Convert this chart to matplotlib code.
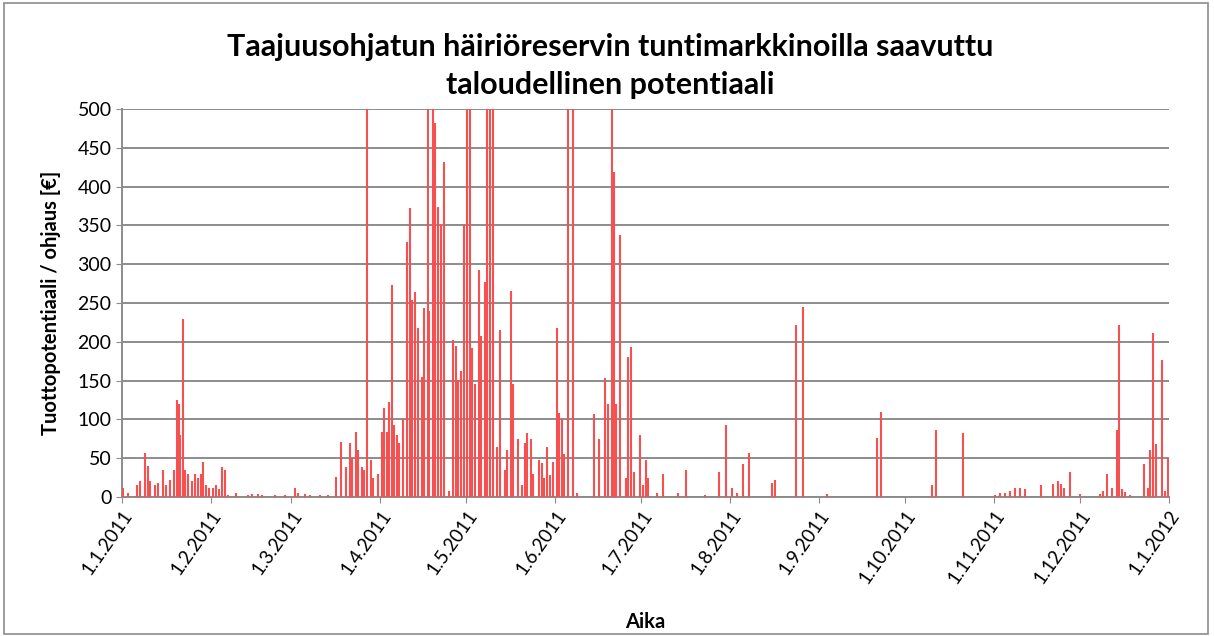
import numpy as np
import pandas as pd
import matplotlib
matplotlib.use("Agg")
import matplotlib.pyplot as plt
from matplotlib.patches import Rectangle

plt.rcParams['font.family'] = ['Lato', 'DejaVu Sans']

# spike positions as days from 1.1.2011, and their heights in euros
spike_days = [0.35, 2.1, 5.2, 6.3, 8.0, 9.1, 9.8, 11.5, 12.6, 14.3, 15.3, 16.7,
              18.1, 19.2, 19.9, 20.2, 21.3, 22.0, 23.0, 24.4, 25.5, 26.5, 27.5,
              28.2, 29.3, 30.3, 31.7, 32.8, 33.8, 34.9, 35.9, 37.0, 39.7, 43.9,
              45.3, 47.4, 48.8, 53.3, 56.8, 60.3, 61.4, 63.8, 65.6, 69.0, 71.8,
              74.6, 76.4, 78.1, 79.5, 80.2, 81.6, 82.3, 83.7, 84.4, 85.4, 86.8,
              87.5, 89.3, 90.7, 91.4, 92.4, 93.1, 94.1, 94.8, 95.9, 96.6, 98.0,
              99.4, 100.4, 101.1, 102.2, 103.2, 104.6, 105.3, 106.7, 107.0,
              108.4, 109.1, 110.2, 111.2, 112.3, 114.0, 115.4, 116.5, 117.2,
              118.2, 119.2, 120.3, 121.3, 122.0, 123.1, 124.5, 125.2, 126.6,
              127.3, 128.3, 129.4, 130.8, 131.8, 133.5, 134.2, 135.6, 136.3,
              138.1, 139.5, 140.5, 141.2, 142.6, 143.3, 145.4, 146.4, 147.1,
              148.2, 149.2, 150.3, 151.7, 152.4, 153.4, 154.1, 155.5, 157.3,
              158.6, 164.6, 166.3, 168.4, 169.5, 170.9, 171.5, 172.2, 173.6,
              175.7, 176.4, 177.5, 178.5, 180.6, 181.7, 182.7, 183.4, 186.5,
              188.6, 193.9, 196.7, 203.3, 208.2, 210.6, 212.6, 214.4, 216.5,
              218.6, 226.6, 227.7, 235.0, 237.4, 245.8, 263.2, 264.6, 282.4,
              283.8, 293.2, 304.4, 306.1, 307.9, 309.6, 311.4, 313.1, 314.9,
              320.4, 324.6, 326.4, 327.4, 328.5, 330.5, 334.0, 341.0, 342.1,
              343.4, 345.2, 346.9, 347.6, 348.7, 349.7, 351.5, 356.3, 357.7,
              358.4, 359.5, 360.5, 362.6, 363.7, 364.7]
spike_values = [12, 5, 15, 20, 57, 40, 20, 15, 18, 35, 15, 22,
                35, 125, 120, 80, 230, 35, 30, 20, 30, 25, 30,
                45, 15, 12, 12, 15, 10, 38, 35, 3, 5, 3,
                4, 4, 3, 3, 3, 11, 5, 4, 3, 3, 3,
                26, 71, 39, 69, 50, 84, 60, 39, 35, 820, 48,
                25, 30, 84, 115, 84, 122, 273, 93, 80, 70, 100,
                329, 372, 254, 264, 218, 155, 243, 700, 240,
                650, 482, 374, 350, 432, 8, 202, 195, 151,
                162, 350, 900, 600, 192, 145, 292, 207, 277,
                750, 800, 560, 65, 215, 35, 60, 265, 145,
                75, 15, 70, 83, 75, 30, 48, 44, 25,
                65, 28, 45, 218, 108, 100, 55, 900, 700,
                5, 107, 75, 153, 120, 600, 419, 120, 338,
                25, 180, 193, 32, 80, 15, 48, 25, 5,
                30, 5, 35, 3, 32, 93, 12, 5, 43,
                57, 18, 22, 222, 245, 4, 76, 110, 15,
                86, 82, 3, 5, 5, 8, 12, 12, 10,
                15, 17, 20, 17, 12, 32, 4, 4, 8,
                30, 12, 86, 222, 10, 6, 3, 42, 12,
                60, 211, 68, 176, 8, 50]

y_ticks = list(range(0, 501, 50))
month_starts = pd.date_range("2011-01-01", "2012-01-01", freq="MS")
month_labels = [f"1.{d.month}.{d.year}" for d in month_starts]

start = pd.Timestamp("2011-01-01")
spike_dates = [start + pd.Timedelta(days=d) for d in spike_days]

fig = plt.figure(figsize=(12.14, 6.36), dpi=100)
ax = fig.add_axes([0.1005, 0.2186, 0.8625, 0.61])

ax.vlines(spike_dates, 0, spike_values, colors="#f65050", linewidth=1.5, zorder=3)

ax.set_ylim(0, 500)
ax.set_xlim(month_starts[0], month_starts[-1])
ax.set_yticks(y_ticks)
ax.set_yticklabels([str(v) for v in y_ticks], fontsize=14)
ax.set_xticks(month_starts)
ax.set_xticklabels(month_labels, rotation=55, ha="right", rotation_mode="anchor", fontsize=13.5)
ax.grid(axis="y", color="#8c8c8c", linewidth=1.4, zorder=0)
ax.set_axisbelow(True)
for side in ["top", "right"]:
    ax.spines[side].set_visible(False)
for side in ["left", "bottom"]:
    ax.spines[side].set_color("#8c8c8c")
    ax.spines[side].set_linewidth(1.4)
ax.tick_params(axis="both", color="#8c8c8c", length=4, direction="out")

ax.set_ylabel("Tuottopotentiaali / ohjaus [€]", fontsize=14.5, fontweight="bold", labelpad=12)
ax.set_xlabel("Aika", fontsize=14.5, fontweight="bold", labelpad=18)
fig.suptitle("Taajuusohjatun häiriöreservin tuntimarkkinoilla saavuttu\ntaloudellinen potentiaali",
             x=0.503, y=0.948, fontsize=22, fontweight="bold", linespacing=1.45)

fig.patches.append(Rectangle((0.003, 0.003), 0.992, 0.992, transform=fig.transFigure,
                             fill=False, edgecolor="#8c8c8c", linewidth=1.2))

fig.savefig("out.png", dpi=100)
